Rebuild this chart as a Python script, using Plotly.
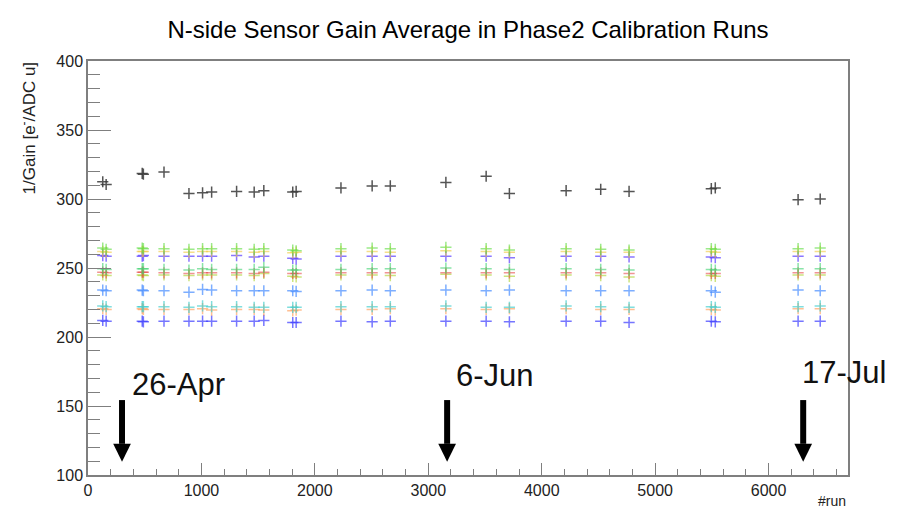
import plotly.graph_objects as go

# ---- data ----
runs = [130, 160, 478, 488, 670, 890, 1010, 1090, 1310, 1465, 1550, 1805, 1835,
        2230, 2505, 2665, 3155, 3510, 3715, 4215, 4520, 4770, 5495, 5530, 6260, 6455]

ch_black = [312.5, 310.5, 318.5, 318.0, 319.5, 304.0, 304.5, 305.0, 305.5, 305.0, 306.0, 305.0, 305.5,
            308.0, 309.5, 309.5, 312.0, 316.5, 304.0, 306.0, 307.0, 305.5, 307.5, 308.0, 299.5, 300.0]
ch_blue = [212.0, 211.5, 211.5, 211.0, 211.5, 211.5, 211.5, 211.5, 211.5, 211.5, 212.0, 210.5, 210.5,
           211.5, 211.0, 211.5, 211.5, 211.5, 211.0, 211.5, 211.5, 210.5, 211.5, 211.0, 211.5, 211.5]
ch_orange = [220.5, 220.0, 220.5, 220.0, 220.0, 220.0, 220.5, 219.5, 220.0, 220.0, 219.5, 219.0, 219.5,
             220.0, 220.0, 220.5, 220.5, 220.0, 220.5, 220.5, 220.0, 220.0, 220.0, 219.5, 220.5, 220.5]
ch_cyan = [222.5, 222.0, 222.0, 222.0, 222.0, 221.5, 222.5, 222.0, 222.0, 221.5, 221.5, 221.5, 221.5,
           222.0, 222.0, 222.0, 222.5, 221.5, 221.5, 222.5, 222.0, 221.5, 222.0, 221.5, 222.0, 222.5]
ch_azure = [234.0, 233.5, 234.0, 233.5, 233.5, 232.5, 234.5, 234.0, 233.5, 233.5, 233.5, 233.5, 233.0,
            233.5, 234.0, 233.5, 234.0, 233.5, 234.0, 233.5, 233.5, 233.5, 233.5, 232.5, 234.0, 233.5]
ch_ygreen = [245.0, 244.5, 245.0, 244.5, 245.0, 244.5, 245.0, 245.0, 245.0, 244.5, 246.0, 244.0, 243.5,
             245.0, 245.0, 244.5, 245.5, 245.0, 244.0, 245.0, 244.5, 243.5, 244.5, 244.0, 245.0, 245.0]
ch_red = [247.0, 246.5, 247.0, 247.0, 246.5, 246.0, 246.5, 246.5, 246.5, 246.0, 247.0, 246.0, 246.0,
          246.5, 246.5, 246.5, 246.5, 246.5, 246.5, 246.5, 246.5, 246.0, 246.0, 246.0, 246.5, 246.5]
ch_green1 = [249.5, 249.0, 249.5, 249.5, 249.0, 248.5, 249.5, 249.0, 249.0, 249.0, 250.5, 248.5, 248.5,
             249.0, 249.5, 249.5, 250.0, 249.5, 249.0, 249.5, 249.0, 248.5, 249.0, 248.5, 249.5, 249.5]
ch_purple = [259.0, 258.5, 258.5, 259.0, 258.5, 258.5, 258.5, 258.5, 259.0, 258.0, 258.5, 257.0, 256.5,
             258.5, 258.5, 258.5, 258.5, 258.5, 257.5, 258.5, 258.5, 258.0, 258.0, 257.5, 258.5, 258.5]
ch_yellow = [262.0, 261.5, 262.0, 262.0, 262.0, 261.5, 262.0, 262.0, 262.0, 261.5, 262.0, 261.0, 261.5,
             262.0, 262.0, 261.5, 262.5, 262.0, 261.5, 262.0, 261.5, 261.5, 262.0, 261.5, 262.0, 262.0]
ch_green2 = [264.5, 263.5, 264.5, 264.0, 264.0, 263.5, 264.0, 264.0, 264.0, 263.5, 264.0, 263.0, 262.5,
             264.0, 264.5, 264.0, 265.0, 264.0, 263.0, 264.0, 263.5, 263.0, 264.0, 263.5, 264.0, 264.5]

series = [
    ("black", ch_black, "rgba(55,55,55,0.85)"),
    ("blue", ch_blue, "rgba(60,60,255,0.70)"),
    ("orange", ch_orange, "rgba(255,140,60,0.55)"),
    ("cyan", ch_cyan, "rgba(60,205,205,0.65)"),
    ("azure", ch_azure, "rgba(70,140,255,0.70)"),
    ("ygreen", ch_ygreen, "rgba(170,210,40,0.60)"),
    ("red", ch_red, "rgba(230,60,60,0.55)"),
    ("green1", ch_green1, "rgba(60,210,110,0.60)"),
    ("purple", ch_purple, "rgba(90,60,255,0.70)"),
    ("yellow", ch_yellow, "rgba(240,200,60,0.60)"),
    ("green2", ch_green2, "rgba(90,220,60,0.60)"),
]

date_labels = ["26-Apr", "6-Jun", "17-Jul"]
arrow_x = [300, 3166, 6305]
label_x = [372, 3229, 6280]
label_y = [165.5, 172, 174]
arrow_top = 154.3
arrow_tip = 109.6
head_len = 13.0
head_half = 78

title_text = "N-side Sensor Gain Average in Phase2 Calibration Runs"
x_range = [0, 6700]
y_range = [100, 400]

FONT = "Liberation Sans, Arial, Helvetica, sans-serif"
AXC = "#7f7f7f"

fig = go.Figure()
for name, vals, col in series:
    fig.add_trace(go.Scatter(
        x=runs, y=vals, mode="markers", name=name,
        marker=dict(symbol="cross-thin", size=8, color=col,
                    line=dict(color=col, width=1.5)),
        showlegend=False, cliponaxis=False))

shapes = []
for ax in arrow_x:
    shapes.append(dict(type="line", xref="x", yref="y", x0=ax, x1=ax,
                       y0=arrow_top, y1=arrow_tip + head_len,
                       line=dict(color="black", width=6)))
    shapes.append(dict(type="path", xref="x", yref="y",
                       path=f"M {ax - head_half},{arrow_tip + head_len} L {ax + head_half},{arrow_tip + head_len} L {ax},{arrow_tip} Z",
                       fillcolor="black", line=dict(color="black", width=0)))

annotations = []
for txt, lx, ly in zip(date_labels, label_x, label_y):
    annotations.append(dict(x=lx, y=ly, xref="x", yref="y", text=txt, showarrow=False,
                            xanchor="left", yanchor="middle",
                            font=dict(family=FONT, size=31, color="#111")))
annotations.append(dict(x=-0.079, y=1.005, xref="paper", yref="paper",
                        text="1/Gain [e<sup>-</sup>/ADC u]", textangle=-90, showarrow=False,
                        xanchor="center", yanchor="top",
                        font=dict(family=FONT, size=17, color="#222")))
annotations.append(dict(x=1.0, y=-0.062, xref="paper", yref="paper", text="#run",
                        showarrow=False, xanchor="right", yanchor="middle",
                        font=dict(family=FONT, size=14, color="#222")))

fig.update_layout(
    width=903, height=510,
    margin=dict(l=88, r=55, t=61, b=35),
    paper_bgcolor="white", plot_bgcolor="white",
    title=dict(text=title_text, x=0.5, xref="paper", xanchor="center",
               y=1 - 30 / 510, yref="container", yanchor="middle",
               font=dict(family=FONT, size=24, color="black")),
    shapes=shapes, annotations=annotations,
    font=dict(family=FONT, color="#222"),
)
fig.update_xaxes(range=x_range, showgrid=False, zeroline=False,
                 showline=True, linecolor=AXC, linewidth=1.5, mirror=True,
                 ticks="inside", ticklen=12, tickcolor=AXC, tickwidth=1.2,
                 dtick=1000, tick0=0, tickfont=dict(size=16, family=FONT, color="#222"),
                 minor=dict(ticks="inside", ticklen=6, dtick=200, tickcolor=AXC, tickwidth=1.2))
fig.update_yaxes(range=y_range, showgrid=False, zeroline=False,
                 showline=True, linecolor=AXC, linewidth=1.5, mirror=True,
                 ticks="inside", ticklen=23, tickcolor=AXC, tickwidth=1.2,
                 dtick=50, tick0=0, tickfont=dict(size=16, family=FONT, color="#222"),
                 minor=dict(ticks="inside", ticklen=12, dtick=10, tickcolor=AXC, tickwidth=1.2))

fig.write_html("out.html")
